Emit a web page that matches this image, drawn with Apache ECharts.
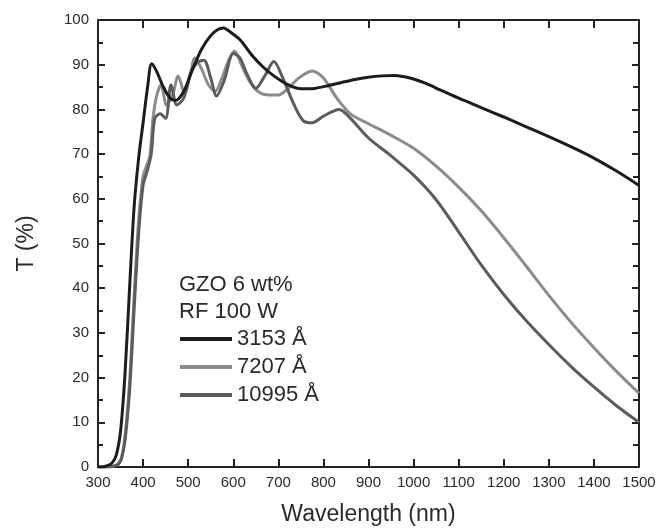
<!DOCTYPE html>
<html>
<head>
<meta charset="utf-8">
<script src="https://cdn.jsdelivr.net/npm/echarts@6/dist/echarts.min.js"></script>
<style>
html,body{margin:0;padding:0;background:#fff;}
#chart{width:661px;height:531px;}
</style>
</head>
<body>
<div id="chart"></div>
<script>
// Data
const seriesNames = ['3153 Å', '7207 Å', '10995 Å'];

const wl3153 = [300,310,320,330,340,350,360,370,380,390,400,410,419,430,445,460,472,490,510,530,550,565,578,595,615,640,665,690,720,750,780,810,840,870,900,930,955,980,1000,1030,1060,1100,1150,1200,1250,1300,1350,1400,1450,1500];
const t3153  = [0,0,0.3,0.8,2.5,8,21,40,58,69,77,85,90.2,88.5,85,82.5,82,84,89,93.5,96.5,97.8,98.2,97.2,95.6,92.3,89.6,87.5,85.6,84.6,84.7,85.3,86,86.7,87.2,87.5,87.6,87.3,86.8,85.7,84.3,82.5,80.4,78.3,76.1,73.9,71.6,69.1,66.2,63];

const wl7207 = [300,320,335,345,352,360,370,380,390,400,408,415,422,430,440,452,465,478,492,505,515,530,545,560,575,590,603,618,635,655,680,700,720,745,775,800,830,860,900,950,1000,1050,1100,1150,1200,1250,1300,1350,1400,1450,1500];
const t7207  = [0,0,0.2,0.8,2,7,19,38,55,65,67.5,69.5,78,83,85.5,81,83,87.5,83.5,88,91.5,89,85.5,84,87,91,93,90,86.5,84,83.2,83.2,84.5,87,88.6,87,82.5,79,76.8,74.2,71.3,67.3,62.6,57.3,51.3,44.9,38.4,32.3,26.7,21.4,16.5];

const wl10995 = [300,320,335,345,352,360,370,380,390,400,410,418,426,438,450,462,475,490,505,520,535,550,563,580,600,615,630,650,670,690,710,735,755,775,800,835,860,900,950,1000,1050,1100,1150,1200,1250,1300,1350,1400,1450,1500];
const t10995  = [0,0,0.2,0.6,1.8,6,17,35,52,63,66.5,70,78,79,78,85.5,81,82.5,88,90.5,91,87,83,86.5,92.5,91.5,88,84.7,87.5,90.7,87,81,77.5,77,78.5,80,78,73.6,69.6,65.3,59.8,52.6,45.2,38.6,32.7,27.4,22.4,17.9,13.7,10];

const xTicks = {min: 300, max: 1500, interval: 100};
const yTicks = {min: 0, max: 100, interval: 10};

const colors = ['#1c1c1c', '#8c8c8c', '#5c5c5c'];
const font = 'Liberation Sans, Arial, Helvetica, sans-serif';

function pairs(xs, ys){ return xs.map((x,i)=>[x, ys[i]]); }

const chart = echarts.init(document.getElementById('chart'), null, {renderer:'canvas'});

const axisLine = {show:true, onZero:false, lineStyle:{color:'#222', width:2}};

const option = {
  backgroundColor: '#ffffff',
  animation: false,
  textStyle: {fontFamily: font},
  grid: {left: 98, right: 22, top: 20, bottom: 63, containLabel: false},
  title: {
    text: 'GZO 6 wt%\nRF 100 W',
    left: 179, top: 271,
    padding: 0,
    textStyle: {fontFamily: font, fontSize: 22, fontWeight: 'normal', color: '#2a2a2a', lineHeight: 27}
  },
  legend: {
    data: seriesNames,
    orient: 'vertical',
    left: 180, top: 327,
    padding: 0,
    itemWidth: 52, itemHeight: 4,
    itemGap: 4,
    icon: 'rect',
    textStyle: {fontFamily: font, fontSize: 22, color: '#2a2a2a', lineHeight: 24}
  },
  xAxis: [{
    type: 'value', min: xTicks.min, max: xTicks.max, interval: xTicks.interval,
    name: 'Wavelength (nm)', nameLocation: 'middle', nameGap: 36,
    nameTextStyle: {fontFamily: font, fontSize: 23, color: '#2a2a2a'},
    axisLine: axisLine,
    axisTick: {show:true, inside:true, length:8, lineStyle:{color:'#222', width:2}},
    axisLabel: {fontFamily: font, fontSize: 15, color:'#2a2a2a', margin: 8, formatter: v => String(v)},
    splitLine: {show:false}
  },{
    type: 'value', position: 'top', min: xTicks.min, max: xTicks.max, interval: xTicks.interval,
    axisLine: axisLine,
    axisTick: {show:true, inside:true, length:8, lineStyle:{color:'#222', width:2}},
    axisLabel: {show:false},
    splitLine: {show:false}
  }],
  yAxis: [{
    type: 'value', min: yTicks.min, max: yTicks.max, interval: yTicks.interval,
    name: 'T (%)', nameLocation: 'middle', nameGap: 60, nameRotate: 90,
    nameTextStyle: {fontFamily: font, fontSize: 23, color: '#2a2a2a'},
    axisLine: axisLine,
    axisTick: {show:true, inside:true, length:7, lineStyle:{color:'#222', width:2}},
    minorTick: {show:true, splitNumber:2, length:5, lineStyle:{color:'#222', width:2}},
    axisLabel: {fontFamily: font, fontSize: 15, color:'#2a2a2a', margin: 9},
    splitLine: {show:false}
  },{
    type: 'value', position: 'right', min: yTicks.min, max: yTicks.max, interval: yTicks.interval,
    axisLine: axisLine,
    axisTick: {show:true, inside:true, length:7, lineStyle:{color:'#222', width:2}},
    minorTick: {show:true, splitNumber:2, length:6, lineStyle:{color:'#222', width:2}},
    axisLabel: {show:false},
    splitLine: {show:false}
  }],
  series: [
    {name: seriesNames[0], type:'line', data: pairs(wl3153, t3153), smooth: 0.3, symbol:'none',
     itemStyle:{color:colors[0]}, lineStyle:{color:colors[0], width:3}, z: 5},
    {name: seriesNames[1], type:'line', data: pairs(wl7207, t7207), smooth: 0.3, symbol:'none',
     itemStyle:{color:colors[1]}, lineStyle:{color:colors[1], width:3}, z: 3},
    {name: seriesNames[2], type:'line', data: pairs(wl10995, t10995), smooth: 0.3, symbol:'none',
     itemStyle:{color:colors[2]}, lineStyle:{color:colors[2], width:3}, z: 4}
  ]
};
chart.setOption(option);
</script>
</body>
</html>
